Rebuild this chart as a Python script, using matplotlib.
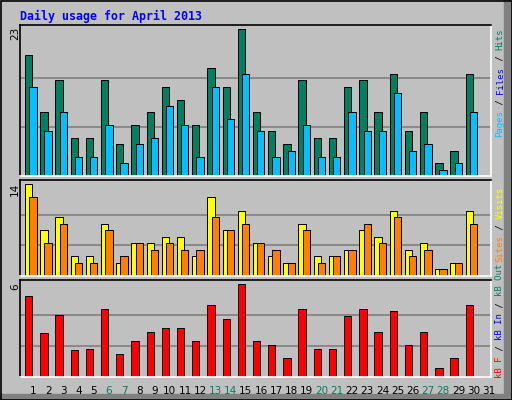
import numpy as np
import matplotlib
matplotlib.use('Agg')
import matplotlib.pyplot as plt
from matplotlib.patches import Rectangle

days = list(range(1, 32))
weekend = [6, 7, 13, 14, 20, 21, 27, 28]

hits = [19, 10, 15, 6, 6, 15, 5, 8, 10, 14, 12, 8, 17, 14, 23,
        10, 7, 5, 15, 6, 6, 14, 15, 10, 16, 7, 10, 2, 4, 16, 0]
files = [14, 7, 10, 3, 3, 8, 2, 5, 6, 11, 8, 3, 14, 9, 16,
         7, 3, 4, 8, 3, 3, 10, 7, 7, 13, 4, 5, 1, 2, 10, 0]
visits = [14, 7, 9, 3, 3, 8, 2, 5, 5, 6, 6, 3, 12, 7, 10,
          5, 3, 2, 8, 3, 3, 4, 7, 6, 10, 4, 5, 1, 2, 10, 0]
sites = [12, 5, 8, 2, 2, 7, 3, 5, 4, 5, 4, 4, 9, 7, 8,
         5, 4, 2, 7, 2, 3, 4, 8, 5, 9, 3, 4, 1, 2, 8, 0]
kbytes = [5.21, 2.85, 4.03, 1.73, 1.80, 4.36, 1.47, 2.32, 2.91, 3.18, 3.18,
          2.32, 4.62, 3.77, 6.0, 2.32, 2.06, 1.2, 4.36, 1.80, 1.80, 3.96,
          4.36, 2.91, 4.29, 2.06, 2.91, 0.61, 1.2, 4.62, 0]

BG = '#c0c0c0'
W, H = 512, 400
fig = plt.figure(figsize=(W / 100, H / 100), dpi=100, facecolor=BG)
lw = 0.72
mono = 'DejaVu Sans Mono'


def px_axes(top, bottom):
    return fig.add_axes([20 / W, 1 - bottom / H, 471 / W, (bottom - top) / H])


def style(ax, vmax, top):
    ax.set_facecolor(BG)
    ax.set_xlim(0, 31)
    ax.set_ylim(0, top)
    ax.set_xticks([])
    ax.set_yticks([])
    for v in (vmax / 3, 2 * vmax / 3):
        ax.axhline(v, color='#808080', lw=1.2, zorder=0)
    for s in ('left', 'top'):
        ax.spines[s].set_color('black')
    for s in ('right', 'bottom'):
        ax.spines[s].set_color('white')
    for s in ax.spines.values():
        s.set_linewidth(1.2)


x = np.arange(31)
ax1 = px_axes(25, 176)
style(ax1, 23, 23.7)
ax1.bar(x + 0.33, hits, 0.48, align='edge', color='#008060', edgecolor='black', lw=lw)
ax1.bar(x + 0.61, files, 0.48, align='edge', color='#00c0ff', edgecolor='black', lw=lw)

ax2 = px_axes(180, 276)
style(ax2, 14, 14.66)
ax2.bar(x + 0.33, visits, 0.48, align='edge', color='#ffff00', edgecolor='black', lw=lw)
ax2.bar(x + 0.61, sites, 0.48, align='edge', color='#ff8000', edgecolor='black', lw=lw)

ax3 = px_axes(280, 377)
style(ax3, 6, 6.26)
ax3.bar(x + 0.33, kbytes, 0.48, align='edge', color='#ff0000', edgecolor='black', lw=lw)

for d in days:
    c = '#008060' if d in weekend else 'black'
    ax3.text(d - 1 + 0.86, -0.09, str(d), transform=ax3.get_xaxis_transform(),
             ha='center', va='top', fontsize=7.5, color=c, family='DejaVu Sans')

# y max labels
for lbl, ytop in (('23', 27), ('14', 183), ('6', 283)):
    fig.text(15 / W, 1 - ytop / H, lbl, rotation=90, ha='center', va='top',
             fontsize=7.5, family='DejaVu Sans')

# right side legend texts, drawn bottom-to-top
fs = 6.5
adv = 0.602 * fs * 100 / 72


def vlabel(parts, ybottom):
    pos = 0
    for txt, col in parts:
        fig.text(500 / W, 1 - (ybottom - pos * adv) / H, txt, rotation=90,
                 ha='center', va='bottom', fontsize=fs, family=mono, color=col,
                 rotation_mode='anchor' if False else 'default')
        pos += len(txt)


vlabel([('Pages', '#00c0ff'), (' / ', 'black'), ('Files', '#0000ff'),
        (' / ', 'black'), ('Hits', '#008060')], 137)
vlabel([('Sites', '#ff8000'), (' / ', 'black'), ('Visits', '#ffff00')], 262)
vlabel([('kB F', '#ff0000'), (' / ', 'black'), ('kB In', '#0000ff'),
        (' / ', 'black'), ('kB Out', '#008060')], 378)

fig.text(20 / W, 1 - 16 / H, 'Daily usage for April 2013', ha='left', va='center',
         fontsize=8.4, family=mono, weight='bold', color='#0000ff')

# outer frame and shadow
fig.patches.append(Rectangle((504 / W, 0), 8 / W, 1, transform=fig.transFigure,
                             color='#808080', zorder=-1))
fig.patches.append(Rectangle((0, 0), 1, 6 / H, transform=fig.transFigure,
                             color='#808080', zorder=-1))
fig.patches.append(Rectangle((0.5 / W, 0.5 / H), 1 - 1 / W, 1 - 1 / H,
                             transform=fig.transFigure, fill=False,
                             edgecolor='black', lw=1.2))

fig.savefig('out.png', dpi=100, facecolor=BG)
